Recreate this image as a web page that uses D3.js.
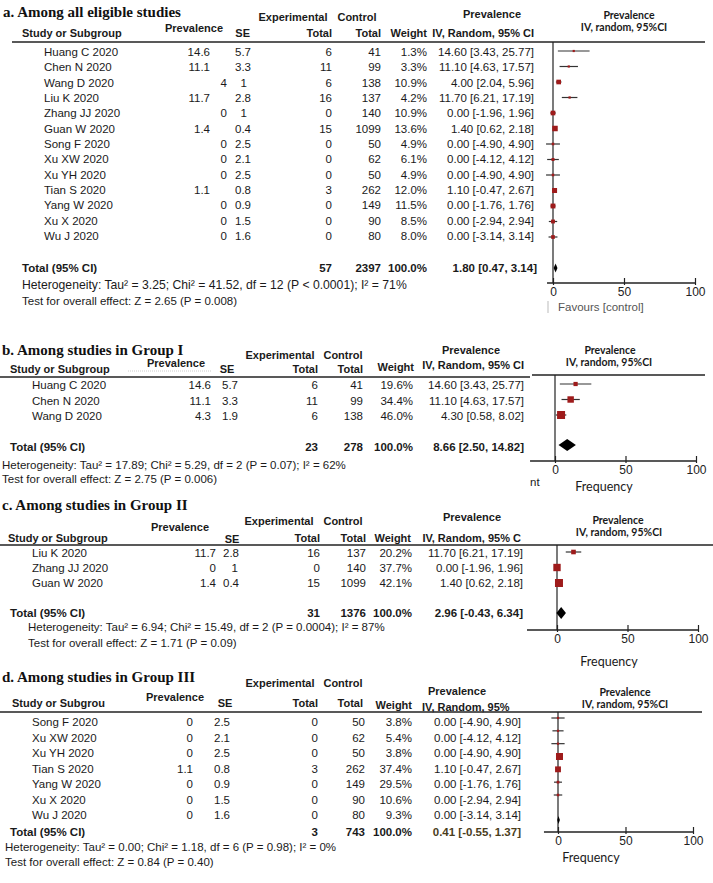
<!DOCTYPE html>
<html>
<head>
<meta charset="utf-8">
<script src="https://cdnjs.cloudflare.com/ajax/libs/d3/7.8.5/d3.min.js"></script>
<style>
  body { margin: 0; background: #fff; }
  text { font-family: "Liberation Sans", Arial, sans-serif; fill: #1a1a1a; }
  .title { font-family: "Liberation Serif", "Times New Roman", serif; font-weight: bold; font-size: 15px; fill: #111; }
  .hd { font-weight: bold; font-size: 11px; }
  .cell { font-size: 11.5px; }
  .bold { font-weight: bold; }
  .ph { font-family: Lato, "Open Sans", sans-serif; font-weight: bold; font-size: 10.5px; }
  .foot { font-family: Lato, "Open Sans", sans-serif; font-size: 12.5px; }
  .fav { font-size: 11.5px; fill: #555; }
</style>
</head>
<body>
<svg id="chart"></svg>
<script>
// ---- data ----
const ticks = [0, 50, 100]
const titles = ["a. Among all eligible studies", "b. Among studies in Group I",
    "c. Among studies in Group II", "d. Among studies in Group III"]
const plotHead = ["Prevalence", "IV, random, 95%CI"]
const footers = ["Favours [control]", "Frequency", "Frequency", "Frequency"]

const headA = ["Experimental", "Control", "Prevalence", "Study or Subgroup", "SE", "Total", "Total", "Weight", "IV, Random, 95% CI", "Prevalence"]
const headB = ["Experimental", "Control", "Prevalence", "Study or Subgroup", "SE", "Total", "Total", "Weight", "IV, Random, 95% CI", "Prevalence"]
const headC = ["Experimental", "Control", "Prevalence", "Study or Subgroup", "SE", "Total", "Total", "Weight", "IV, Random, 95% C", "Prevalence"]
const headD = ["Experimental", "Control", "Prevalence", "Study or Subgrou", "SE", "Total", "Total", "Weight", "IV, Random, 95%", "Prevalence"]

// study, prevalence, SE, experimental total, control total, weight %, estimate, lower, upper
const rowsA = [
    ["Huang C 2020", 14.6, 5.7, 6, 41, 1.3, 14.60, 3.43, 25.77],
    ["Chen N 2020", 11.1, 3.3, 11, 99, 3.3, 11.10, 4.63, 17.57],
    ["Wang D 2020", 4, 1, 6, 138, 10.9, 4.00, 2.04, 5.96],
    ["Liu K 2020", 11.7, 2.8, 16, 137, 4.2, 11.70, 6.21, 17.19],
    ["Zhang JJ 2020", 0, 1, 0, 140, 10.9, 0.00, -1.96, 1.96],
    ["Guan W 2020", 1.4, 0.4, 15, 1099, 13.6, 1.40, 0.62, 2.18],
    ["Song F 2020", 0, 2.5, 0, 50, 4.9, 0.00, -4.90, 4.90],
    ["Xu XW 2020", 0, 2.1, 0, 62, 6.1, 0.00, -4.12, 4.12],
    ["Xu YH 2020", 0, 2.5, 0, 50, 4.9, 0.00, -4.90, 4.90],
    ["Tian S 2020", 1.1, 0.8, 3, 262, 12.0, 1.10, -0.47, 2.67],
    ["Yang W 2020", 0, 0.9, 0, 149, 11.5, 0.00, -1.76, 1.76],
    ["Xu X 2020", 0, 1.5, 0, 90, 8.5, 0.00, -2.94, 2.94],
    ["Wu J 2020", 0, 1.6, 0, 80, 8.0, 0.00, -3.14, 3.14]
]
const rowsB = [
    ["Huang C 2020", 14.6, 5.7, 6, 41, 19.6, 14.60, 3.43, 25.77],
    ["Chen N 2020", 11.1, 3.3, 11, 99, 34.4, 11.10, 4.63, 17.57],
    ["Wang D 2020", 4.3, 1.9, 6, 138, 46.0, 4.30, 0.58, 8.02]
]
const rowsC = [
    ["Liu K 2020", 11.7, 2.8, 16, 137, 20.2, 11.70, 6.21, 17.19],
    ["Zhang JJ 2020", 0, 1, 0, 140, 37.7, 0.00, -1.96, 1.96],
    ["Guan W 2020", 1.4, 0.4, 15, 1099, 42.1, 1.40, 0.62, 2.18]
]
const rowsD = [
    ["Song F 2020", 0, 2.5, 0, 50, 3.8, 0.00, -4.90, 4.90],
    ["Xu XW 2020", 0, 2.1, 0, 62, 5.4, 0.00, -4.12, 4.12],
    ["Xu YH 2020", 0, 2.5, 0, 50, 3.8, 0.00, -4.90, 4.90],
    ["Tian S 2020", 1.1, 0.8, 3, 262, 37.4, 1.10, -0.47, 2.67],
    ["Yang W 2020", 0, 0.9, 0, 149, 29.5, 0.00, -1.76, 1.76],
    ["Xu X 2020", 0, 1.5, 0, 90, 10.6, 0.00, -2.94, 2.94],
    ["Wu J 2020", 0, 1.6, 0, 80, 9.3, 0.00, -3.14, 3.14]
]

// experimental total, control total, weight, estimate, lower, upper
const totalA = [57, 2397, 100.0, 1.80, 0.47, 3.14]
const totalB = [23, 278, 100.0, 8.66, 2.50, 14.82]
const totalC = [31, 1376, 100.0, 2.96, -0.43, 6.34]
const totalD = [3, 743, 100.0, 0.41, -0.55, 1.37]

const hetA = "Heterogeneity: Tau² = 3.25; Chi² = 41.52, df = 12 (P < 0.0001); I² = 71%"
const hetB = "Heterogeneity: Tau² = 17.89; Chi² = 5.29, df = 2 (P = 0.07); I² = 62%"
const hetC = "Heterogeneity: Tau² = 6.94; Chi² = 15.49, df = 2 (P = 0.0004); I² = 87%"
const hetD = "Heterogeneity: Tau² = 0.00; Chi² = 1.18, df = 6 (P = 0.98); I² = 0%"
const testA = "Test for overall effect: Z = 2.65 (P = 0.008)"
const testB = "Test for overall effect: Z = 2.75 (P = 0.006)"
const testC = "Test for overall effect: Z = 1.71 (P = 0.09)"
const testD = "Test for overall effect: Z = 0.84 (P = 0.40)"

// ---- layout (pixel positions, centre lines of text) ----
const layoutA = {
    title: [3, 12],
    head: [[293, 17], [357, 17], [194, 28], [22, 33, "start"], [250, 33, "end"], [332, 33, "end"],
        [381, 33, "end"], [427, 33, "end"], [534, 33, "end"], [492, 14]],
    plotHead: [[629, 15], [624, 27]],
    lines: [[12, 705, 42]],
    cols: { name: 44, prev: 210, prevInt: 227, se: 251, seInt: 247, exp: 332, ctrl: 381, w: 427, ci: 534 },
    rowY: [52, 236], plotRowY: [51, 237],
    totalX: 22, totalY: 268, hetX: 22, hetY: 285, testY: 301, hetSize: 12.2,
    x0: 553, x100: 695, axisFrom: -4.2, axisY: 283, vTop: 42,
    diamondY: 268, dh: 4.5, boxMax: 5.5,
    foot: [558, 307, "start"]
}
const layoutB = {
    title: [2, 350],
    head: [[280, 355], [343, 355], [176, 363], [10, 369, "start"], [227, 369], [318, 369, "end"],
        [363, 369, "end"], [414, 367, "end"], [524, 365, "end"], [471, 350]],
    plotHead: [[610, 350], [609, 362]],
    lines: [[0, 530, 377], [532, 705, 375]],
    cols: { name: 32, prev: 211, prevInt: 211, se: 238, seInt: 238, exp: 318, ctrl: 363, w: 413, ci: 524 },
    rowY: [385, 416], plotRowY: [384, 415],
    totalX: 10, totalY: 447, hetX: 2, hetY: 465, testY: 479,
    x0: 555, x100: 696, axisFrom: -17.7, axisY: 461, vTop: 375,
    diamondY: 445, dh: 6, boxMax: 8,
    foot: [604, 487, "middle"]
}
const layoutC = {
    title: [2, 505],
    head: [[279, 521], [343, 521], [180, 527], [8, 538, "start"], [232, 539], [320, 538, "end"],
        [366, 538, "end"], [411, 538, "end"], [521, 538, "end"], [472, 517]],
    plotHead: [[618, 520], [619, 532]],
    lines: [[0, 713, 545]],
    cols: { name: 32, prev: 216, prevInt: 216, se: 239, seInt: 238, exp: 320, ctrl: 366, w: 412, ci: 523 },
    rowY: [553, 583], plotRowY: [552, 583],
    totalX: 10, totalY: 613, hetX: 28, hetY: 627, testY: 643,
    x0: 557, x100: 698, axisFrom: -21.3, axisY: 630, vTop: 545,
    diamondY: 613, dh: 6, boxMax: 8,
    foot: [609, 662, "middle"]
}
const layoutD = {
    title: [2, 677],
    head: [[280, 683], [343, 683], [175, 697], [12, 703, "start"], [225, 703], [318, 703, "end"],
        [363, 703, "end"], [412, 705, "end"], [422, 707, "start"], [457, 691]],
    plotHead: [[625, 692], [625, 704]],
    lines: [[0, 702, 712]],
    cols: { name: 32, prev: 193, prevInt: 193, se: 230, seInt: 230, exp: 318, ctrl: 365, w: 412, ci: 521 },
    rowY: [722, 815], plotRowY: [718, 795],
    totalX: 10, totalY: 832, hetX: 5, hetY: 847, testY: 862,
    x0: 558, x100: 693, axisFrom: -10.4, axisY: 832, vTop: 712,
    diamondY: 820, dh: 4, boxMax: 7,
    foot: [591, 858, "middle"], ciTotalColor: "#4a3d1c"
}

const panels = [
    { title: titles[0], head: headA, rows: rowsA, total: totalA, het: hetA, test: testA, foot: footers[0], L: layoutA },
    { title: titles[1], head: headB, rows: rowsB, total: totalB, het: hetB, test: testB, foot: footers[1], L: layoutB },
    { title: titles[2], head: headC, rows: rowsC, total: totalC, het: hetC, test: testC, foot: footers[2], L: layoutC },
    { title: titles[3], head: headD, rows: rowsD, total: totalD, het: hetD, test: testD, foot: footers[3], L: layoutD }
]

const W = 713, H = 883
const svg = d3.select("#chart").attr("width", W).attr("height", H)
svg.append("rect").attr("width", W).attr("height", H).attr("fill", "#fff")

const markColor = "#9e1b1b"
const ciFmt = (e, lo, hi) => `${e.toFixed(2)} [${lo.toFixed(2)}, ${hi.toFixed(2)}]`

function drawPanel(p) {
    const L = p.L, C = L.cols
    const g = svg.append("g")

    g.append("text").attr("class", "title")
        .attr("x", L.title[0]).attr("y", L.title[1]).attr("dy", "0.35em")
        .text(p.title)

    g.selectAll("text.hd").data(p.head).join("text")
        .attr("class", "hd")
        .attr("x", (d, i) => L.head[i][0])
        .attr("y", (d, i) => L.head[i][1])
        .attr("dy", "0.35em")
        .attr("text-anchor", (d, i) => L.head[i][2] || "middle")
        .text(d => d)

    g.selectAll("text.ph").data(plotHead).join("text")
        .attr("class", "ph")
        .attr("x", (d, i) => L.plotHead[i][0])
        .attr("y", (d, i) => L.plotHead[i][1])
        .attr("dy", "0.35em")
        .attr("text-anchor", "middle")
        .text(d => d)

    L.lines.forEach(([x1, x2, y]) => {
        g.append("line").attr("x1", x1).attr("x2", x2).attr("y1", y).attr("y2", y)
            .attr("stroke", "#222").attr("stroke-width", 1.3)
    })

    const n = p.rows.length
    const yRow = d3.scaleLinear().domain([0, n - 1]).range(L.rowY)
    const yPlot = d3.scaleLinear().domain([0, n - 1]).range(L.plotRowY)
    const x = d3.scaleLinear().domain([0, 100]).range([L.x0, L.x100])

    // table rows
    const rows = g.selectAll("g.row").data(p.rows).join("g")
        .attr("class", "row")
        .attr("transform", (d, i) => `translate(0,${yRow(i)})`)

    const cell = (sel, xf, tf, anchor) => sel.append("text").attr("class", "cell")
        .attr("x", xf).attr("dy", "0.35em").attr("text-anchor", anchor).text(tf)

    cell(rows, C.name, d => d[0], "start")
    cell(rows, d => Number.isInteger(d[1]) ? C.prevInt : C.prev, d => String(d[1]), "end")
    cell(rows, d => Number.isInteger(d[2]) ? C.seInt : C.se, d => String(d[2]), "end")
    cell(rows, C.exp, d => d[3], "end")
    cell(rows, C.ctrl, d => d[4], "end")
    cell(rows, C.w, d => d[5].toFixed(1) + "%", "end")
    cell(rows, C.ci, d => ciFmt(d[6], d[7], d[8]), "end")

    // total row
    const t = p.total
    const tot = g.append("g").attr("transform", `translate(0,${L.totalY})`)
    tot.append("text").attr("class", "cell bold").attr("x", L.totalX).attr("dy", "0.35em").text("Total (95% CI)")
    tot.append("text").attr("class", "cell bold").attr("x", C.exp).attr("dy", "0.35em").attr("text-anchor", "end").text(t[0])
    tot.append("text").attr("class", "cell bold").attr("x", C.ctrl).attr("dy", "0.35em").attr("text-anchor", "end").text(t[1])
    tot.append("text").attr("class", "cell bold").attr("x", C.w).attr("dy", "0.35em").attr("text-anchor", "end").text(t[2].toFixed(1) + "%")
    tot.append("text").attr("class", "cell bold").attr("x", C.ci + (L === layoutA ? 3 : 0)).attr("dy", "0.35em")
        .attr("text-anchor", "end").style("fill", L.ciTotalColor || null)
        .text(ciFmt(t[3], t[4], t[5]))

    g.append("text").attr("class", "cell").attr("x", L.hetX).attr("y", L.hetY).attr("dy", "0.35em")
        .style("font-size", L.hetSize ? L.hetSize + "px" : null)
        .text(p.het)
    g.append("text").attr("class", "cell").attr("x", L.hetX).attr("y", L.testY).attr("dy", "0.35em").text(p.test)

    // forest plot
    g.append("line")
        .attr("x1", x(0)).attr("x2", x(0)).attr("y1", L.vTop).attr("y2", L.axisY)
        .attr("stroke", "#222").attr("stroke-width", 1.2)

    const wMax = d3.max(p.rows, d => d[5])
    const box = w => Math.max(2.2, L.boxMax * Math.pow(w / wMax, 0.75))

    g.selectAll("line.ci").data(p.rows).join("line")
        .attr("class", "ci")
        .attr("x1", d => x(d[7])).attr("x2", d => x(d[8]))
        .attr("y1", (d, i) => yPlot(i)).attr("y2", (d, i) => yPlot(i))
        .attr("stroke", "#333").attr("stroke-width", 1.2)

    g.selectAll("rect.box").data(p.rows).join("rect")
        .attr("class", "box")
        .attr("x", d => x(d[6]) - box(d[5]) / 2)
        .attr("y", (d, i) => yPlot(i) - box(d[5]) / 2)
        .attr("width", d => box(d[5]))
        .attr("height", d => box(d[5]))
        .attr("fill", markColor)

    const dy = L.diamondY
    g.append("path")
        .attr("d", `M${x(t[4])},${dy}L${x(t[3])},${dy - L.dh}L${x(t[5])},${dy}L${x(t[3])},${dy + L.dh}Z`)
        .attr("fill", "#000")

    const axis = g.append("g")
        .attr("transform", `translate(0,${L.axisY})`)
        .call(d3.axisBottom(x).tickValues(ticks).tickSizeInner(0).tickSizeOuter(0).tickPadding(4))
    axis.select(".domain").remove()
    axis.selectAll(".tick line").attr("y1", 2).attr("y2", -5).attr("stroke", "#222").attr("stroke-width", 1.2)
    axis.selectAll(".tick text").attr("font-family", "Liberation Sans, Arial, sans-serif")
        .attr("font-size", 12).style("fill", "#222")
    axis.append("line")
        .attr("x1", x(L.axisFrom)).attr("x2", x(100))
        .attr("stroke", "#222").attr("stroke-width", 1.3)

    g.append("text")
        .attr("class", L === layoutA ? "fav" : "foot")
        .attr("x", L.foot[0]).attr("y", L.foot[1]).attr("dy", "0.35em")
        .attr("text-anchor", L.foot[2])
        .text(p.foot)
}

panels.forEach(drawPanel)

// small leftovers visible in the figure
svg.append("line").attr("x1", 548).attr("x2", 548).attr("y1", 301).attr("y2", 313)
    .attr("stroke", "#bbb")
svg.append("text").attr("class", "cell").attr("x", 530).attr("y", 482).attr("dy", "0.35em").text("nt")
svg.append("line").attr("x1", 128).attr("x2", 212).attr("y1", 371).attr("y2", 371)
    .attr("stroke", "#ccc").attr("stroke-dasharray", "1,1")
</script>
</body>
</html>
